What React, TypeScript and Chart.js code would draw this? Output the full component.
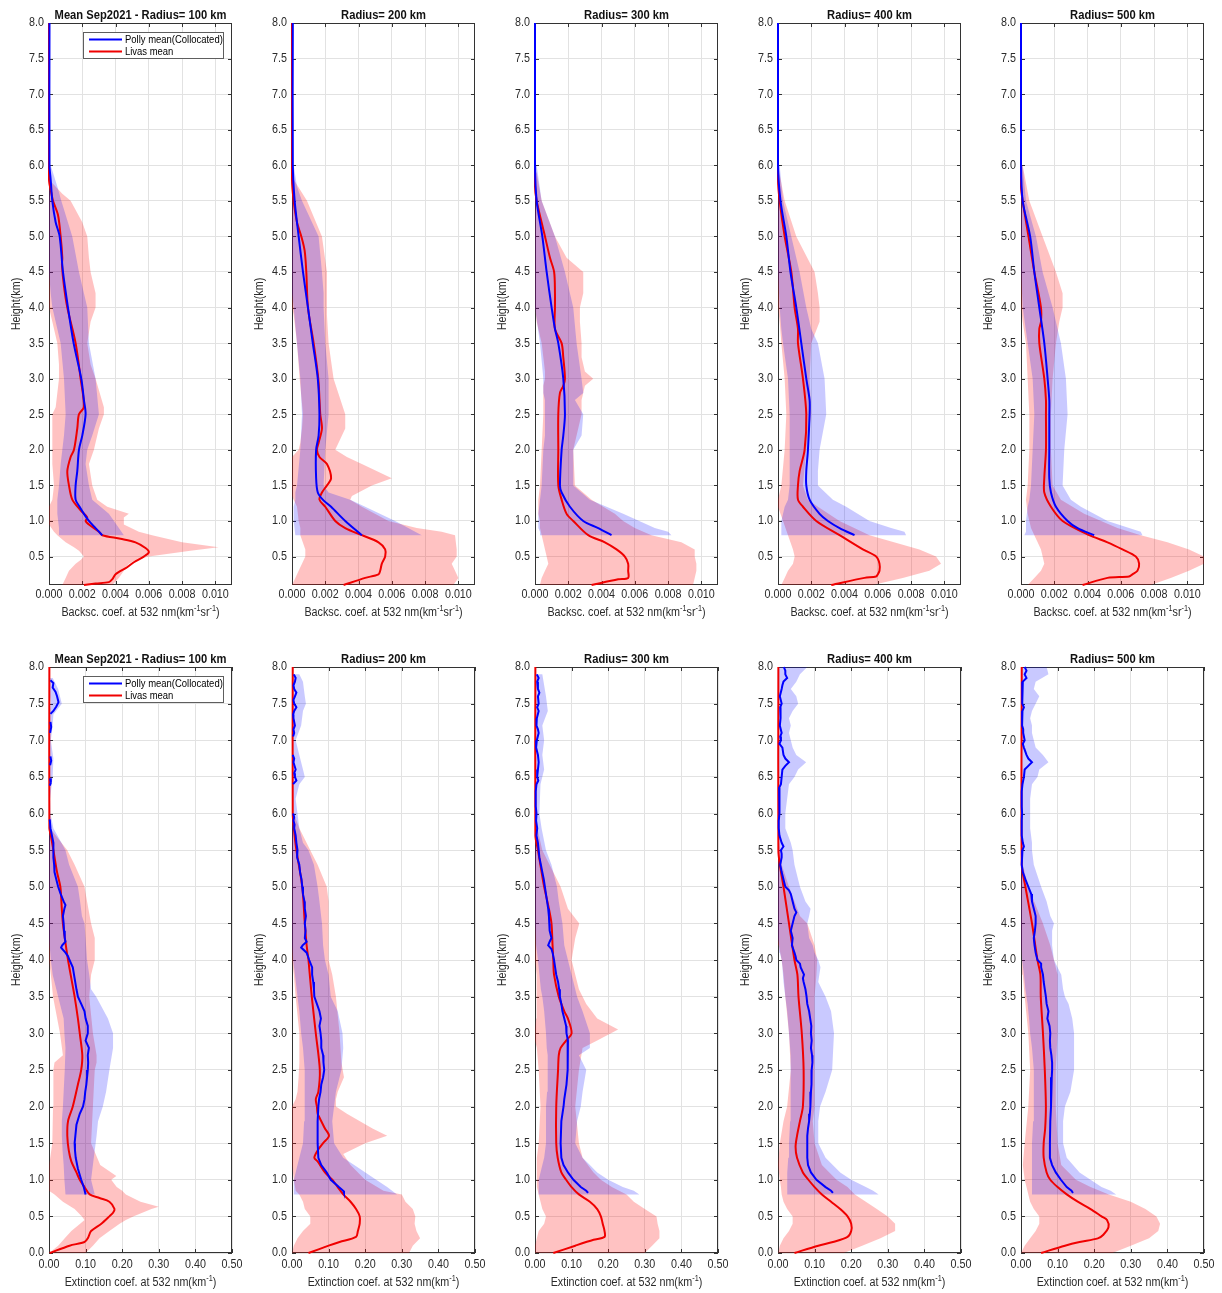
import React, { useEffect, useRef } from 'react';
import { Chart, registerables } from 'chart.js';

Chart.register(...registerables);

type Profile = Array<[number, number | null]>;
type Band = Array<[number, number, number]>;
type RichText = Array<[string, boolean]>;

// ---------- labels and ticks ----------
const PANEL_TITLES = [
  'Mean Sep2021 - Radius= 100 km',
  'Radius= 200 km',
  'Radius= 300 km',
  'Radius= 400 km',
  'Radius= 500 km',
];
const LEGEND_LABELS = ['Polly mean(Collocated)', 'Livas mean'];
const Y_LABEL = 'Height(km)';
const BSC_X_LABEL: RichText = [['Backsc. coef. at 532 nm(km', false], ['-1', true], ['sr', false], ['-1', true], [')', false]];
const EXT_X_LABEL: RichText = [['Extinction coef. at 532 nm(km', false], ['-1', true], [')', false]];
const BSC_TICKS = [0, 0.002, 0.004, 0.006, 0.008, 0.01];
const EXT_TICKS = [0, 0.1, 0.2, 0.3, 0.4, 0.5];
const HEIGHT_TICKS_BSC = [0.5, 1.0, 1.5, 2.0, 2.5, 3.0, 3.5, 4.0, 4.5, 5.0, 5.5, 6.0, 6.5, 7.0, 7.5, 8.0];
const HEIGHT_TICKS_EXT = [0.0, 0.5, 1.0, 1.5, 2.0, 2.5, 3.0, 3.5, 4.0, 4.5, 5.0, 5.5, 6.0, 6.5, 7.0, 7.5, 8.0];

// ---------- backscatter profiles: [height km, value] ----------
const BSC_BLUE_100: Profile = [[8.0,0.00003],[6.0,0.00003],[5.8,0.0001],[5.5,0.0002],[5.2,0.0004],[5.0,0.00064],[4.5,0.00084],[4.0,0.00114],[3.5,0.00148],[3.0,0.00194],[2.7,0.0021],[2.5,0.0022],[2.2,0.002],[2.0,0.0018],[1.7,0.0017],[1.5,0.0016],[1.3,0.0016],[1.2,0.00184],[1.1,0.0021],[1.0,0.0024],[0.9,0.0028],[0.8,0.0032]];
const BSC_RED_100: Profile = [[8.0,0],[5.8,0],[5.6,0.00015],[5.5,0.00024],[5.3,0.00054],[5.0,0.0007],[4.7,0.0008],[4.6,0.00078],[4.3,0.0009],[4.0,0.0011],[3.5,0.0016],[3.0,0.0019],[2.6,0.0021],[2.5,0.0018],[2.3,0.0017],[2.0,0.0015],[1.9,0.0013],[1.7,0.0011],[1.5,0.0012],[1.3,0.0014],[1.15,0.0019],[1.05,0.0023],[1.0,0.0022],[0.95,0.0024],[0.85,0.003],[0.8,0.0032],[0.75,0.0043],[0.7,0.0052],[0.62,0.0058],[0.56,0.006],[0.5,0.0057],[0.42,0.0051],[0.35,0.0047],[0.25,0.004],[0.18,0.0038],[0.14,0.0036],[0.12,0.0028],[0.1,0.0021]];
const BSC_BLUE_BAND_100: Band = [[6.0,0,0.0001],[5.7,0,0.0005],[5.5,0,0.00074],[5.0,0,0.0014],[4.5,0,0.0018],[4.2,0.0001,0.0021],[4.0,0.0002,0.0023],[3.5,0.0007,0.0024],[3.0,0.0009,0.0028],[2.5,0.001,0.003],[2.2,0.0009,0.0026],[2.0,0.0008,0.0023],[1.8,0.0007,0.0022],[1.5,0.0006,0.0024],[1.3,0.0005,0.0026],[1.1,0.0005,0.0036],[0.9,0.0006,0.0042],[0.8,0.0006,0.0045]];
const BSC_RED_BAND_100: Band = [[5.8,0,0],[5.6,0,0.0008],[5.5,0,0.0013],[5.2,0,0.002],[5.0,0,0.0023],[4.7,0,0.0024],[4.5,0,0.0025],[4.2,0,0.0028],[4.0,0,0.0028],[3.8,0.0002,0.0025],[3.5,0.0005,0.0023],[3.2,0.0006,0.0025],[3.0,0.0006,0.0028],[2.6,0.0004,0.0033],[2.5,0.0002,0.0033],[2.3,0.0002,0.003],[2.0,0.0002,0.0027],[1.8,0.0002,0.0024],[1.5,0.0003,0.0026],[1.3,0.0002,0.0029],[1.2,0,0.0035],[1.1,0,0.0048],[1.05,0,0.0045],[0.95,0,0.0045],[0.85,0.0003,0.0054],[0.8,0.0005,0.0062],[0.7,0.001,0.008],[0.63,0.0015,0.0102],[0.58,0.0018,0.0085],[0.5,0.0021,0.006],[0.45,0.0019,0.0052],[0.4,0.0016,0.0048],[0.3,0.0012,0.0045],[0.2,0.001,0.0042],[0.1,0.0008,0.0038]];

const BSC_BLUE_200: Profile = [[8.0,0.00005],[6.0,0.00005],[5.5,0.00016],[5.0,0.0004],[4.5,0.00066],[4.0,0.00096],[3.5,0.00125],[3.0,0.00155],[2.5,0.00165],[2.2,0.0016],[2.0,0.00145],[1.6,0.00145],[1.4,0.00155],[1.3,0.00185],[1.2,0.00235],[1.0,0.0032],[0.8,0.0042]];
const BSC_RED_200: Profile = [[8.0,0],[5.8,0],[5.5,0.0001],[5.2,0.0003],[5.0,0.00056],[4.8,0.00076],[4.5,0.00086],[4.0,0.00096],[3.5,0.0013],[3.0,0.00158],[2.5,0.0017],[2.3,0.0018],[2.1,0.0016],[2.0,0.0015],[1.9,0.00165],[1.8,0.0021],[1.6,0.00235],[1.5,0.0021],[1.4,0.0018],[1.3,0.00165],[1.2,0.002],[1.0,0.0026],[0.9,0.0032],[0.8,0.0042],[0.7,0.0052],[0.6,0.0056],[0.5,0.0056],[0.4,0.0054],[0.3,0.0053],[0.25,0.0052],[0.2,0.0044],[0.1,0.0031]];
const BSC_BLUE_BAND_200: Band = [[6.0,0,0.0001],[5.7,0,0.0003],[5.5,0,0.0006],[5.0,0,0.0016],[4.5,0,0.0018],[4.2,0,0.0019],[4.0,0.0001,0.0019],[3.5,0.0003,0.002],[3.0,0.0005,0.0022],[2.5,0.0006,0.0022],[2.0,0.0005,0.002],[1.5,0.0003,0.0019],[1.4,0.0002,0.0022],[1.3,0.0002,0.0035],[1.2,0.0001,0.0044],[1.0,0.0001,0.0062],[0.8,0.0002,0.0078]];
const BSC_RED_BAND_200: Band = [[5.8,0,0.0001],[5.5,0,0.0009],[5.0,0,0.0018],[4.5,0,0.0021],[4.0,0,0.0021],[3.9,0.0001,0.0021],[3.5,0.0003,0.0022],[3.0,0.00046,0.0025],[2.5,0.00066,0.0032],[2.3,0.0006,0.0032],[2.1,0.0005,0.0028],[2.0,0.0004,0.0026],[1.9,0,0.0033],[1.8,0,0.0042],[1.6,0,0.006],[1.5,0,0.0048],[1.35,0,0.0036],[1.3,0.0001,0.0035],[1.2,0.0003,0.0042],[1.0,0.0004,0.0058],[0.9,0.0005,0.0075],[0.85,0.0005,0.009],[0.8,0.0005,0.0098],[0.6,0.0008,0.0099],[0.5,0.0008,0.0099],[0.4,0.0006,0.0096],[0.3,0.0004,0.0098],[0.2,0.0002,0.01],[0.1,0,0.0097]];

const BSC_BLUE_300: Profile = [[8.0,0],[6.0,0],[5.5,0.0001],[5.0,0.00044],[4.5,0.0007],[4.0,0.001],[3.7,0.0012],[3.5,0.0014],[3.0,0.0017],[2.5,0.0018],[2.2,0.0017],[2.0,0.0016],[1.5,0.0015],[1.4,0.0016],[1.2,0.0021],[1.0,0.0029],[0.9,0.0038],[0.8,0.0046]];
const BSC_RED_300: Profile = [[8.0,0],[5.7,0],[5.5,0.0001],[5.0,0.0006],[4.7,0.0009],[4.5,0.00115],[4.2,0.0012],[4.0,0.0012],[3.7,0.0012],[3.5,0.0016],[3.3,0.0017],[3.0,0.0018],[2.9,0.0017],[2.8,0.0015],[2.5,0.0014],[2.0,0.0014],[1.5,0.0014],[1.3,0.0016],[1.1,0.0019],[1.0,0.0023],[0.8,0.0032],[0.7,0.0042],[0.6,0.0049],[0.5,0.0054],[0.4,0.0056],[0.3,0.0056],[0.2,0.0056],[0.18,0.005],[0.1,0.0034]];
const BSC_BLUE_BAND_300: Band = [[6.0,0,0.0001],[5.5,0,0.0004],[5.0,0,0.0012],[4.5,0,0.0018],[4.0,0,0.0023],[3.5,0.0003,0.0025],[3.0,0.0005,0.0028],[2.8,0.0005,0.0029],[2.7,0.0006,0.0024],[2.5,0.0006,0.0029],[2.2,0.0006,0.0028],[2.0,0.0005,0.0023],[1.5,0.0004,0.0023],[1.3,0.0003,0.0033],[1.1,0.0002,0.0053],[0.9,0.0002,0.0072],[0.85,0.0003,0.008],[0.8,0.0003,0.0082]];
const BSC_RED_BAND_300: Band = [[5.9,0,0.0001],[5.5,0,0.0004],[5.0,0,0.0012],[4.7,0,0.0019],[4.5,0,0.0029],[4.2,0,0.0029],[4.0,0,0.0027],[3.8,0.0001,0.0027],[3.5,0.0004,0.0028],[3.3,0.0005,0.0028],[3.1,0.0006,0.003],[3.0,0.0006,0.0035],[2.9,0.0005,0.003],[2.7,0.0005,0.0028],[2.5,0.0005,0.0028],[2.0,0.0004,0.0023],[1.5,0.0003,0.0024],[1.3,0.0002,0.0034],[1.1,0.0002,0.0048],[1.0,0.0003,0.0053],[0.9,0.0003,0.006],[0.8,0.0004,0.007],[0.7,0.0005,0.0088],[0.6,0.0006,0.0096],[0.5,0.0007,0.0096],[0.4,0.0008,0.0097],[0.3,0.0006,0.0097],[0.2,0.0004,0.0096],[0.1,0.0003,0.0095]];

const BSC_BLUE_400: Profile = [[8.0,0],[6.0,0],[5.5,0.00015],[5.0,0.0005],[4.5,0.00075],[4.0,0.0011],[3.5,0.0014],[3.0,0.0017],[2.7,0.0019],[2.5,0.0019],[2.0,0.0018],[1.7,0.0017],[1.5,0.0017],[1.3,0.0019],[1.1,0.0025],[1.0,0.003],[0.9,0.0037],[0.8,0.0046]];
const BSC_RED_400: Profile = [[8.0,0],[5.8,0],[5.5,0.0001],[5.0,0.0004],[4.5,0.0008],[4.0,0.001],[3.7,0.0012],[3.5,0.0012],[3.0,0.0015],[2.5,0.0017],[2.0,0.0016],[1.7,0.0013],[1.5,0.0012],[1.3,0.0012],[1.2,0.0015],[1.0,0.0023],[0.8,0.0037],[0.6,0.0051],[0.5,0.0059],[0.4,0.0061],[0.3,0.0061],[0.25,0.006],[0.22,0.0059],[0.2,0.0052],[0.1,0.0032]];
const BSC_BLUE_BAND_400: Band = [[6.0,0,0.0001],[5.5,0,0.0003],[5.0,0,0.0008],[4.5,0,0.0013],[4.0,0.0001,0.0017],[3.7,0.0002,0.002],[3.5,0.0003,0.0024],[3.0,0.0006,0.0028],[2.5,0.0007,0.0029],[2.0,0.0007,0.0025],[1.7,0.0007,0.0024],[1.5,0.0007,0.0024],[1.3,0.0006,0.0033],[1.2,0.0004,0.0041],[1.0,0.0002,0.0055],[0.9,0.0002,0.0068],[0.85,0.0002,0.0076],[0.8,0.0002,0.0077]];
const BSC_RED_BAND_400: Band = [[6.0,0,0],[5.5,0,0.0004],[5.0,0,0.0011],[4.5,0,0.0022],[4.2,0,0.0024],[4.0,0,0.0025],[3.8,0.0001,0.0025],[3.5,0.0002,0.002],[3.0,0.0004,0.0019],[2.5,0.0005,0.002],[2.0,0.0004,0.0017],[1.5,0.0002,0.0015],[1.3,0,0.0018],[1.2,0,0.0024],[1.0,0.0003,0.0037],[0.8,0.0006,0.0055],[0.6,0.0009,0.0085],[0.5,0.001,0.0095],[0.4,0.0009,0.0098],[0.3,0.0006,0.0091],[0.2,0.0004,0.0075],[0.1,0.0002,0.0057]];

const BSC_BLUE_500: Profile = [[8.0,0],[6.0,0],[5.5,0.0001],[5.0,0.00055],[4.5,0.0008],[4.0,0.0011],[3.5,0.0014],[3.0,0.0016],[2.7,0.0017],[2.5,0.0017],[2.0,0.0017],[1.6,0.0017],[1.4,0.0018],[1.2,0.0021],[1.0,0.0028],[0.9,0.0034],[0.8,0.0044]];
const BSC_RED_500: Profile = [[8.0,0],[5.7,0],[5.5,0.0001],[5.0,0.00045],[4.5,0.0008],[4.0,0.0012],[3.8,0.0012],[3.7,0.0011],[3.5,0.0011],[3.0,0.0014],[2.7,0.0015],[2.5,0.0015],[2.0,0.0015],[1.6,0.0014],[1.4,0.0014],[1.2,0.0018],[1.0,0.0025],[0.8,0.0041],[0.7,0.0052],[0.6,0.0061],[0.5,0.0069],[0.4,0.0071],[0.3,0.007],[0.25,0.0067],[0.22,0.0065],[0.2,0.0052],[0.1,0.0037]];
const BSC_BLUE_BAND_500: Band = [[6.0,0,0.0001],[5.5,0,0.0003],[5.0,0,0.0009],[4.5,0,0.0013],[4.0,0.0001,0.0019],[3.5,0.0004,0.0024],[3.0,0.0007,0.0027],[2.5,0.0008,0.0028],[2.0,0.0007,0.0026],[1.5,0.0006,0.0025],[1.3,0.0005,0.003],[1.2,0.0004,0.0036],[1.0,0.0003,0.0052],[0.9,0.0003,0.0065],[0.85,0.0003,0.0072],[0.8,0.0002,0.0073]];
const BSC_RED_BAND_500: Band = [[6.0,0,0.0001],[5.5,0,0.0005],[5.0,0,0.0013],[4.5,0,0.0021],[4.2,0,0.0025],[4.0,0,0.0025],[3.8,0.0001,0.0023],[3.5,0.0003,0.0021],[3.0,0.0004,0.0019],[2.5,0.0005,0.0018],[2.0,0.0005,0.0018],[1.5,0.0004,0.0019],[1.3,0.0003,0.0024],[1.1,0.0004,0.0038],[0.9,0.0006,0.0058],[0.8,0.0008,0.0072],[0.7,0.001,0.0088],[0.6,0.0012,0.0101],[0.5,0.0013,0.011],[0.4,0.0014,0.011],[0.3,0.0012,0.0101],[0.2,0.0008,0.009],[0.1,0.0004,0.0078]];

// ---------- extinction profiles: [height km, value] ----------
const EXT_BLUE_100: Profile = [[7.82,0.004],[7.78,0.012],[7.72,0.01],[7.66,0.018],[7.6,0.022],[7.52,0.026],[7.46,0.02],[7.4,0.012],[7.36,0.004],[7.3,null],[7.25,0.004],[7.18,0.006],[7.1,0.003],[7.0,null],[6.78,0.004],[6.72,0.006],[6.66,0.003],[6.6,null],[6.48,0.003],[6.42,0.005],[6.38,0.002],[6.2,null],[5.92,0.002],[5.8,0.004],[5.7,0.008],[5.6,0.012],[5.5,0.011],[5.4,0.013],[5.3,0.014],[5.2,0.015],[5.1,0.02],[5.0,0.025],[4.9,0.032],[4.8,0.04],[4.75,0.045],[4.7,0.042],[4.6,0.038],[4.5,0.04],[4.4,0.041],[4.3,0.043],[4.25,0.045],[4.2,0.036],[4.17,0.033],[4.1,0.045],[4.05,0.052],[4.0,0.056],[3.9,0.065],[3.75,0.07],[3.6,0.075],[3.5,0.079],[3.4,0.088],[3.3,0.097],[3.2,0.1],[3.1,0.106],[3.0,0.106],[2.9,0.1],[2.8,0.109],[2.7,0.106],[2.6,0.107],[2.5,0.106],[2.4,0.104],[2.3,0.102],[2.2,0.099],[2.1,0.097],[2.0,0.093],[1.9,0.084],[1.75,0.075],[1.6,0.072],[1.5,0.07],[1.4,0.071],[1.3,0.073],[1.15,0.079],[1.0,0.088],[0.9,0.095],[0.8,0.1]];
const EXT_RED_100: Profile = [[8.0,0.001],[5.8,0.001],[5.7,0.005],[5.5,0.012],[5.2,0.022],[5.0,0.031],[4.7,0.035],[4.5,0.038],[4.2,0.046],[4.0,0.052],[3.75,0.061],[3.5,0.07],[3.2,0.079],[3.0,0.084],[2.7,0.091],[2.5,0.088],[2.3,0.079],[2.0,0.065],[1.8,0.052],[1.6,0.05],[1.4,0.054],[1.25,0.061],[1.1,0.075],[1.0,0.084],[0.9,0.097],[0.8,0.111],[0.75,0.138],[0.7,0.165],[0.6,0.179],[0.55,0.175],[0.5,0.165],[0.4,0.143],[0.3,0.115],[0.2,0.106],[0.15,0.097],[0.1,0.056],[0.0,0.002]];
const EXT_BLUE_BAND_100: Band = [[7.85,0,0.01],[7.7,0,0.025],[7.5,0.005,0.035],[7.35,0,0.012],[7.2,0,0.01],[7.0,0,0.005],[6.75,0,0.012],[6.5,0,0.01],[6.2,0,0.003],[6.0,0,0.004],[5.8,0,0.012],[5.6,0,0.034],[5.5,0,0.045],[5.3,0,0.055],[5.0,0,0.079],[4.8,0,0.085],[4.6,0,0.09],[4.5,0,0.097],[4.3,0,0.1],[4.0,0.005,0.104],[3.8,0.01,0.11],[3.6,0.02,0.115],[3.5,0.025,0.129],[3.2,0.04,0.161],[3.0,0.042,0.175],[2.8,0.045,0.175],[2.5,0.043,0.165],[2.2,0.04,0.156],[2.0,0.038,0.147],[1.8,0.035,0.134],[1.6,0.035,0.13],[1.4,0.037,0.125],[1.2,0.04,0.12],[1.0,0.042,0.115],[0.8,0.045,0.125]];
const EXT_RED_BAND_100: Band = [[5.8,0,0.003],[5.5,0,0.05],[5.3,0,0.07],[5.0,0,0.097],[4.8,0,0.104],[4.5,0,0.115],[4.3,0,0.125],[4.0,0,0.125],[3.8,0.005,0.115],[3.5,0.011,0.11],[3.0,0.03,0.12],[2.7,0.038,0.13],[2.6,0.015,0.13],[2.5,0.012,0.125],[2.0,0.011,0.12],[1.5,0.009,0.115],[1.2,0.002,0.14],[1.05,0,0.184],[1.0,0,0.17],[0.9,0,0.185],[0.85,0,0.2],[0.8,0.015,0.21],[0.7,0.038,0.25],[0.63,0.06,0.3],[0.6,0.07,0.28],[0.5,0.09,0.23],[0.45,0.097,0.21],[0.4,0.085,0.193],[0.3,0.061,0.165],[0.2,0.043,0.138],[0.1,0.025,0.12],[0.0,0,0.1]];

const EXT_BLUE_200: Profile = [[7.9,0.005],[7.85,0.01],[7.8,0.008],[7.75,0.004],[7.7,0.006],[7.65,0.012],[7.6,0.008],[7.55,0.004],[7.5,0.006],[7.45,0.012],[7.4,0.006],[7.35,0.003],[7.3,0.004],[7.2,0.008],[7.15,0.004],[7.1,0.006],[7.05,0.003],[7.0,null],[6.8,0.002],[6.75,0.006],[6.7,0.004],[6.6,0.01],[6.55,0.006],[6.5,0.008],[6.45,0.012],[6.4,0.003],[6.3,null],[6.0,0.003],[5.95,0.006],[5.9,0.004],[5.85,0.007],[5.8,0.006],[5.7,0.01],[5.6,0.012],[5.5,0.015],[5.4,0.014],[5.3,0.02],[5.2,0.022],[5.1,0.026],[5.0,0.028],[4.9,0.03],[4.8,0.034],[4.7,0.035],[4.6,0.038],[4.5,0.035],[4.4,0.037],[4.3,0.035],[4.25,0.04],[4.2,0.029],[4.17,0.025],[4.1,0.04],[4.0,0.047],[3.9,0.055],[3.8,0.055],[3.7,0.058],[3.6,0.06],[3.5,0.061],[3.4,0.068],[3.3,0.075],[3.2,0.079],[3.1,0.075],[3.0,0.078],[2.9,0.08],[2.8,0.08],[2.7,0.085],[2.6,0.086],[2.5,0.088],[2.4,0.085],[2.3,0.08],[2.2,0.078],[2.1,0.074],[2.0,0.072],[1.8,0.07],[1.5,0.07],[1.3,0.072],[1.2,0.08],[1.1,0.095],[1.0,0.106],[0.9,0.128],[0.85,0.14],[0.82,0.142]];
const EXT_RED_200: Profile = [[8.0,0.002],[6.0,0.002],[5.8,0.005],[5.5,0.012],[5.0,0.028],[4.5,0.035],[4.2,0.04],[4.0,0.045],[3.5,0.054],[3.0,0.065],[2.5,0.076],[2.2,0.072],[2.1,0.065],[2.0,0.068],[1.9,0.07],[1.85,0.075],[1.7,0.09],[1.6,0.101],[1.5,0.085],[1.4,0.07],[1.3,0.061],[1.25,0.07],[1.1,0.09],[1.0,0.11],[0.9,0.125],[0.8,0.14],[0.7,0.16],[0.6,0.175],[0.5,0.185],[0.4,0.185],[0.3,0.18],[0.22,0.175],[0.15,0.13],[0.1,0.1],[0.0,0.045]];
const EXT_BLUE_BAND_200: Band = [[7.9,0,0.02],[7.8,0,0.03],[7.6,0,0.035],[7.5,0,0.038],[7.4,0,0.03],[7.2,0,0.025],[7.0,0,0.01],[6.8,0,0.02],[6.6,0,0.03],[6.5,0,0.035],[6.4,0,0.02],[6.2,0,0.01],[6.0,0,0.015],[5.8,0,0.02],[5.6,0,0.03],[5.5,0,0.045],[5.3,0,0.06],[5.0,0,0.07],[4.8,0,0.075],[4.5,0,0.082],[4.2,0,0.085],[4.0,0.003,0.09],[3.8,0.008,0.1],[3.5,0.015,0.106],[3.3,0.02,0.125],[3.0,0.025,0.138],[2.8,0.03,0.14],[2.5,0.034,0.135],[2.2,0.035,0.12],[2.0,0.035,0.115],[1.8,0.033,0.11],[1.5,0.03,0.115],[1.3,0.02,0.14],[1.2,0.015,0.17],[1.0,0.005,0.23],[0.9,0.005,0.26],[0.8,0.005,0.287]];
const EXT_RED_BAND_200: Band = [[6.0,0,0.005],[5.8,0,0.02],[5.5,0,0.05],[5.3,0,0.07],[5.0,0,0.095],[4.8,0,0.1],[4.5,0,0.1],[4.2,0,0.1],[4.0,0,0.1],[3.8,0.005,0.11],[3.5,0.01,0.12],[3.0,0.02,0.13],[2.6,0.02,0.135],[2.4,0.018,0.142],[2.2,0.015,0.125],[2.1,0.01,0.12],[2.0,0,0.12],[1.9,0,0.15],[1.7,0,0.22],[1.6,0,0.26],[1.5,0,0.2],[1.35,0,0.14],[1.2,0,0.16],[1.0,0.005,0.2],[0.85,0.01,0.25],[0.8,0.02,0.3],[0.7,0.03,0.31],[0.6,0.035,0.33],[0.5,0.05,0.337],[0.4,0.05,0.335],[0.3,0.03,0.34],[0.2,0.015,0.35],[0.1,0.005,0.33],[0.0,0,0.32]];

const EXT_BLUE_300: Profile = [[7.9,0.005],[7.85,0.01],[7.8,0.006],[7.7,0.008],[7.65,0.012],[7.6,0.008],[7.5,0.01],[7.45,0.006],[7.4,0.01],[7.3,0.005],[7.2,0.004],[7.15,0.008],[7.1,0.01],[7.0,0.005],[6.9,0.003],[6.8,0.008],[6.7,0.01],[6.6,0.008],[6.5,0.006],[6.45,0.009],[6.4,0.004],[6.3,0.002],[6.1,0.002],[6.0,0.004],[5.9,0.003],[5.8,0.006],[5.7,0.004],[5.6,0.008],[5.5,0.01],[5.4,0.012],[5.3,0.016],[5.2,0.02],[5.1,0.024],[5.0,0.027],[4.9,0.03],[4.8,0.033],[4.7,0.036],[4.6,0.038],[4.5,0.039],[4.4,0.04],[4.3,0.045],[4.25,0.04],[4.2,0.036],[4.15,0.045],[4.1,0.048],[4.0,0.052],[3.9,0.055],[3.8,0.058],[3.7,0.063],[3.6,0.066],[3.5,0.068],[3.4,0.072],[3.3,0.075],[3.2,0.08],[3.1,0.085],[3.0,0.086],[2.9,0.09],[2.8,0.09],[2.7,0.09],[2.6,0.089],[2.5,0.088],[2.3,0.086],[2.1,0.08],[2.0,0.078],[1.8,0.072],[1.5,0.07],[1.3,0.072],[1.2,0.078],[1.1,0.09],[1.0,0.105],[0.9,0.125],[0.85,0.14],[0.82,0.145]];
const EXT_RED_300: Profile = [[8.0,0.001],[5.7,0.001],[5.5,0.008],[5.2,0.018],[5.0,0.025],[4.7,0.038],[4.5,0.045],[4.2,0.048],[4.0,0.05],[3.8,0.052],[3.5,0.065],[3.3,0.08],[3.2,0.09],[3.0,0.1],[2.9,0.085],[2.8,0.07],[2.7,0.065],[2.5,0.063],[2.0,0.058],[1.5,0.058],[1.3,0.062],[1.1,0.072],[1.0,0.085],[0.9,0.1],[0.8,0.12],[0.7,0.15],[0.6,0.17],[0.5,0.18],[0.4,0.185],[0.3,0.19],[0.22,0.19],[0.18,0.16],[0.1,0.11],[0.0,0.05]];
const EXT_BLUE_BAND_300: Band = [[7.9,0,0.02],[7.6,0,0.03],[7.4,0,0.035],[7.2,0,0.02],[7.0,0,0.025],[6.8,0,0.02],[6.6,0,0.025],[6.4,0,0.015],[6.0,0,0.012],[5.8,0,0.018],[5.5,0,0.03],[5.3,0,0.045],[5.0,0,0.06],[4.8,0,0.065],[4.5,0,0.075],[4.2,0.003,0.08],[4.0,0.008,0.09],[3.8,0.012,0.1],[3.6,0.016,0.11],[3.5,0.02,0.115],[3.3,0.025,0.13],[3.0,0.03,0.15],[2.8,0.032,0.15],[2.7,0.034,0.12],[2.6,0.035,0.13],[2.5,0.035,0.14],[2.2,0.033,0.13],[2.0,0.03,0.125],[1.8,0.03,0.115],[1.5,0.03,0.11],[1.3,0.025,0.13],[1.2,0.02,0.15],[1.1,0.015,0.17],[1.0,0.01,0.2],[0.9,0.01,0.24],[0.85,0.01,0.27],[0.8,0.01,0.285]];
const EXT_RED_BAND_300: Band = [[5.9,0,0.002],[5.5,0,0.02],[5.0,0,0.07],[4.7,0,0.09],[4.5,0,0.121],[4.3,0,0.11],[4.0,0,0.1],[3.8,0.003,0.11],[3.6,0.005,0.12],[3.4,0.005,0.14],[3.2,0.003,0.17],[3.05,0,0.227],[2.9,0,0.17],[2.8,0.005,0.13],[2.5,0.01,0.12],[2.0,0.015,0.11],[1.5,0.01,0.12],[1.3,0.005,0.13],[1.1,0.005,0.16],[1.0,0.005,0.18],[0.9,0.005,0.21],[0.8,0.01,0.25],[0.7,0.015,0.27],[0.6,0.02,0.3],[0.5,0.03,0.332],[0.4,0.025,0.335],[0.3,0.01,0.34],[0.2,0.005,0.34],[0.1,0,0.32],[0.0,0,0.3]];

const EXT_BLUE_400: Profile = [[8.0,0.016],[7.95,0.02],[7.9,0.02],[7.85,0.025],[7.8,0.015],[7.75,0.012],[7.7,0.01],[7.6,0.005],[7.5,0.01],[7.45,0.006],[7.4,0.008],[7.3,0.006],[7.2,0.005],[7.1,0.01],[7.05,0.006],[7.0,0.008],[6.95,0.004],[6.9,0.012],[6.8,0.015],[6.75,0.02],[6.7,0.03],[6.65,0.02],[6.6,0.012],[6.5,0.01],[6.4,0.008],[6.35,0.003],[6.3,0.004],[6.2,0.005],[6.1,0.003],[6.0,0.004],[5.9,0.002],[5.8,0.002],[5.7,0.004],[5.6,0.01],[5.55,0.015],[5.5,0.008],[5.45,0.01],[5.4,0.01],[5.3,0.006],[5.2,0.01],[5.1,0.015],[5.0,0.02],[4.95,0.03],[4.9,0.035],[4.8,0.04],[4.7,0.045],[4.65,0.05],[4.6,0.045],[4.5,0.04],[4.4,0.035],[4.3,0.04],[4.2,0.038],[4.1,0.045],[4.05,0.048],[4.0,0.05],[3.95,0.06],[3.9,0.062],[3.8,0.071],[3.75,0.068],[3.7,0.07],[3.6,0.075],[3.5,0.078],[3.4,0.08],[3.3,0.085],[3.2,0.088],[3.1,0.091],[3.0,0.09],[2.9,0.092],[2.8,0.09],[2.7,0.093],[2.6,0.094],[2.5,0.092],[2.4,0.092],[2.3,0.091],[2.2,0.09],[2.1,0.089],[2.0,0.088],[1.9,0.087],[1.8,0.085],[1.7,0.082],[1.6,0.08],[1.5,0.08],[1.4,0.08],[1.3,0.08],[1.2,0.082],[1.1,0.09],[1.0,0.105],[0.9,0.13],[0.85,0.145],[0.82,0.15]];
const EXT_RED_400: Profile = [[8.0,0.001],[5.5,0.001],[5.3,0.005],[5.0,0.015],[4.5,0.03],[4.0,0.045],[3.8,0.053],[3.5,0.056],[3.0,0.065],[2.5,0.07],[2.0,0.068],[1.8,0.06],[1.6,0.052],[1.45,0.048],[1.3,0.052],[1.1,0.068],[1.0,0.083],[0.9,0.1],[0.8,0.12],[0.7,0.145],[0.6,0.17],[0.5,0.19],[0.4,0.2],[0.3,0.2],[0.22,0.19],[0.15,0.15],[0.1,0.11],[0.0,0.045]];
const EXT_BLUE_BAND_400: Band = [[8.0,0,0.08],[7.9,0,0.06],[7.8,0,0.05],[7.7,0,0.035],[7.6,0,0.05],[7.5,0,0.055],[7.4,0,0.04],[7.3,0,0.03],[7.2,0,0.035],[7.1,0,0.03],[7.0,0,0.035],[6.9,0,0.04],[6.8,0,0.05],[6.7,0,0.077],[6.6,0,0.055],[6.5,0,0.045],[6.4,0,0.03],[6.2,0,0.025],[6.0,0,0.02],[5.8,0,0.02],[5.6,0,0.035],[5.5,0,0.04],[5.3,0,0.045],[5.1,0,0.055],[5.0,0,0.06],[4.8,0,0.075],[4.7,0,0.089],[4.6,0,0.085],[4.5,0,0.08],[4.3,0,0.085],[4.2,0.003,0.095],[4.1,0.005,0.1],[4.0,0.01,0.11],[3.9,0.012,0.116],[3.7,0.015,0.11],[3.5,0.02,0.13],[3.3,0.025,0.145],[3.0,0.03,0.153],[2.7,0.033,0.15],[2.5,0.035,0.148],[2.2,0.035,0.13],[2.0,0.035,0.115],[1.8,0.033,0.11],[1.5,0.03,0.11],[1.3,0.028,0.13],[1.1,0.026,0.17],[1.0,0.025,0.2],[0.9,0.025,0.24],[0.85,0.025,0.26],[0.8,0.025,0.275]];
const EXT_RED_BAND_400: Band = [[5.6,0,0.003],[5.3,0,0.01],[5.0,0,0.03],[4.6,0,0.06],[4.5,0,0.08],[4.2,0.002,0.1],[4.0,0.01,0.107],[3.8,0.015,0.105],[3.5,0.02,0.1],[3.0,0.03,0.1],[2.5,0.035,0.1],[2.0,0.025,0.1],[1.8,0.015,0.095],[1.5,0.005,0.1],[1.2,0,0.12],[1.0,0.005,0.16],[0.9,0.008,0.19],[0.8,0.01,0.21],[0.7,0.015,0.24],[0.6,0.025,0.27],[0.5,0.04,0.3],[0.4,0.04,0.32],[0.3,0.03,0.32],[0.2,0.015,0.28],[0.1,0.005,0.23],[0.0,0,0.18]];

const EXT_BLUE_500: Profile = [[8.0,0.01],[7.95,0.015],[7.9,0.01],[7.85,0.015],[7.8,0.005],[7.7,0.003],[7.6,0.004],[7.5,0.003],[7.45,0.008],[7.4,0.004],[7.3,0.003],[7.2,0.003],[7.15,0.006],[7.1,0.006],[7.0,0.01],[6.95,0.005],[6.9,0.008],[6.8,0.015],[6.75,0.02],[6.7,0.03],[6.65,0.02],[6.6,0.01],[6.5,0.008],[6.4,0.004],[6.3,0.002],[6.1,0.002],[6.0,0.003],[5.9,0.002],[5.7,0.002],[5.6,0.005],[5.55,0.008],[5.5,0.004],[5.4,0.003],[5.3,0.002],[5.2,0.005],[5.1,0.012],[5.0,0.02],[4.9,0.028],[4.8,0.03],[4.7,0.035],[4.6,0.04],[4.5,0.04],[4.4,0.038],[4.3,0.035],[4.2,0.037],[4.1,0.04],[4.0,0.045],[3.95,0.055],[3.9,0.055],[3.8,0.06],[3.7,0.062],[3.6,0.065],[3.5,0.068],[3.4,0.07],[3.3,0.075],[3.2,0.072],[3.1,0.078],[3.0,0.08],[2.9,0.079],[2.8,0.08],[2.7,0.083],[2.6,0.085],[2.5,0.085],[2.4,0.084],[2.2,0.082],[2.0,0.082],[1.8,0.08],[1.5,0.079],[1.3,0.079],[1.2,0.085],[1.1,0.095],[1.0,0.109],[0.9,0.125],[0.85,0.138],[0.82,0.142]];
const EXT_RED_500: Profile = [[8.0,0.002],[5.3,0.002],[5.0,0.012],[4.5,0.03],[4.0,0.045],[3.8,0.053],[3.5,0.054],[3.0,0.06],[2.5,0.065],[2.0,0.068],[1.7,0.066],[1.5,0.062],[1.3,0.062],[1.1,0.07],[1.0,0.08],[0.9,0.1],[0.8,0.125],[0.7,0.155],[0.6,0.19],[0.5,0.22],[0.45,0.235],[0.35,0.239],[0.25,0.225],[0.2,0.21],[0.15,0.16],[0.1,0.12],[0.0,0.055]];
const EXT_BLUE_BAND_500: Band = [[8.0,0,0.07],[7.9,0,0.075],[7.8,0,0.04],[7.7,0,0.035],[7.6,0,0.05],[7.5,0,0.04],[7.4,0,0.03],[7.3,0,0.025],[7.2,0,0.03],[7.1,0,0.03],[7.0,0,0.035],[6.9,0,0.04],[6.8,0,0.06],[6.7,0,0.075],[6.6,0,0.05],[6.5,0,0.045],[6.4,0,0.03],[6.2,0,0.025],[6.0,0,0.025],[5.8,0,0.025],[5.6,0,0.03],[5.5,0,0.03],[5.3,0,0.035],[5.0,0,0.055],[4.8,0,0.07],[4.6,0,0.08],[4.5,0,0.09],[4.4,0,0.085],[4.2,0,0.085],[4.0,0.003,0.09],[3.8,0.008,0.11],[3.6,0.012,0.115],[3.5,0.015,0.12],[3.4,0.018,0.13],[3.2,0.022,0.14],[3.0,0.025,0.145],[2.8,0.03,0.145],[2.5,0.035,0.145],[2.2,0.035,0.135],[2.0,0.035,0.12],[1.8,0.033,0.115],[1.5,0.03,0.115],[1.3,0.03,0.125],[1.1,0.03,0.16],[1.0,0.03,0.19],[0.9,0.03,0.22],[0.85,0.03,0.245],[0.8,0.03,0.26]];
const EXT_RED_BAND_500: Band = [[5.3,0,0.005],[5.0,0,0.02],[4.5,0,0.06],[4.2,0,0.08],[4.0,0.003,0.09],[3.8,0.005,0.1],[3.5,0.01,0.1],[3.0,0.02,0.1],[2.5,0.025,0.095],[2.0,0.02,0.095],[1.5,0.01,0.1],[1.2,0.005,0.11],[1.0,0.01,0.15],[0.9,0.015,0.19],[0.8,0.02,0.24],[0.7,0.025,0.3],[0.6,0.035,0.34],[0.5,0.05,0.37],[0.4,0.05,0.38],[0.3,0.04,0.375],[0.2,0.025,0.35],[0.1,0.01,0.3],[0.0,0,0.25]];

// ---------- styling ----------
const FONT = "'Liberation Sans', Arial, sans-serif";
const NARROW = 0.86; // horizontal squeeze for a condensed look
const TEXT_COLOR = '#111111';
const TICK_COLOR = '#2b2b2b';
const AXIS_COLOR = '#333333';
const GRID_COLOR = '#e2e2e2';
const BLUE = '#0000ff';
const RED = '#f00000';
const BLUE_FILL = 'rgba(0, 0, 255, 0.21)';
const RED_FILL = 'rgba(255, 0, 0, 0.24)';
const PANEL_W = 243;

interface RowSpec {
  xMax: number;
  xTicks: number[];
  xDigits: number;
  yMin: number;
  yTicks: number[];
  xLabel: RichText;
  canvasTop: number;
  canvasHeight: number;
  plotTop: number;
  plotBottom: number;
  tickGap: number;
  xLabelGap: number;
  blueTension: number;
}

interface PanelData {
  blue: Profile;
  red: Profile;
  blueBand: Band;
  redBand: Band;
}

const BSC_ROW: RowSpec = {
  xMax: 0.011, xTicks: BSC_TICKS, xDigits: 3, yMin: 0.1, yTicks: HEIGHT_TICKS_BSC, xLabel: BSC_X_LABEL,
  canvasTop: 0, canvasHeight: 625, plotTop: 23, plotBottom: 585, tickGap: 10, xLabelGap: 28, blueTension: 0.3,
};
const EXT_ROW: RowSpec = {
  xMax: 0.5, xTicks: EXT_TICKS, xDigits: 2, yMin: 0, yTicks: HEIGHT_TICKS_EXT, xLabel: EXT_X_LABEL,
  canvasTop: 645, canvasHeight: 648, plotTop: 22, plotBottom: 608, tickGap: 12, xLabelGap: 30, blueTension: 0,
};

const BSC_PANELS: PanelData[] = [
  { blue: BSC_BLUE_100, red: BSC_RED_100, blueBand: BSC_BLUE_BAND_100, redBand: BSC_RED_BAND_100 },
  { blue: BSC_BLUE_200, red: BSC_RED_200, blueBand: BSC_BLUE_BAND_200, redBand: BSC_RED_BAND_200 },
  { blue: BSC_BLUE_300, red: BSC_RED_300, blueBand: BSC_BLUE_BAND_300, redBand: BSC_RED_BAND_300 },
  { blue: BSC_BLUE_400, red: BSC_RED_400, blueBand: BSC_BLUE_BAND_400, redBand: BSC_RED_BAND_400 },
  { blue: BSC_BLUE_500, red: BSC_RED_500, blueBand: BSC_BLUE_BAND_500, redBand: BSC_RED_BAND_500 },
];
const EXT_PANELS: PanelData[] = [
  { blue: EXT_BLUE_100, red: EXT_RED_100, blueBand: EXT_BLUE_BAND_100, redBand: EXT_RED_BAND_100 },
  { blue: EXT_BLUE_200, red: EXT_RED_200, blueBand: EXT_BLUE_BAND_200, redBand: EXT_RED_BAND_200 },
  { blue: EXT_BLUE_300, red: EXT_RED_300, blueBand: EXT_BLUE_BAND_300, redBand: EXT_RED_BAND_300 },
  { blue: EXT_BLUE_400, red: EXT_RED_400, blueBand: EXT_BLUE_BAND_400, redBand: EXT_RED_BAND_400 },
  { blue: EXT_BLUE_500, red: EXT_RED_500, blueBand: EXT_BLUE_BAND_500, redBand: EXT_RED_BAND_500 },
];

const toPoints = (p: Profile) => p.map(([h, v]) => ({ x: v, y: h }));

// closed outline: upper edge going down, lower edge coming back up
const bandOutline = (b: Band) => [
  ...b.map(([h, , hi]) => ({ x: hi, y: h })),
  ...b.slice().reverse().map(([h, lo]) => ({ x: lo, y: h })),
];

// text drawn with a horizontal squeeze, anchored at (x, y)
function narrowText(
  ctx: CanvasRenderingContext2D,
  text: string,
  x: number,
  y: number,
  align: CanvasTextAlign,
  font: string,
) {
  ctx.save();
  ctx.font = font;
  ctx.textAlign = align;
  ctx.textBaseline = 'middle';
  ctx.translate(x, y);
  ctx.scale(NARROW, 1);
  ctx.fillText(text, 0, 0);
  ctx.restore();
}

function drawRich(ctx: CanvasRenderingContext2D, parts: RichText, cx: number, cy: number) {
  const base = `12.5px ${FONT}`;
  const sup = `8.5px ${FONT}`;
  let w = 0;
  for (const [t, s] of parts) {
    ctx.font = s ? sup : base;
    w += ctx.measureText(t).width;
  }
  ctx.save();
  ctx.translate(cx, cy);
  ctx.scale(NARROW, 1);
  let x = -w / 2;
  ctx.textAlign = 'left';
  ctx.textBaseline = 'middle';
  for (const [t, s] of parts) {
    ctx.font = s ? sup : base;
    ctx.fillText(t, x, s ? -4.5 : 0);
    x += ctx.measureText(t).width;
  }
  ctx.restore();
}

function drawLegend(ctx: CanvasRenderingContext2D, left: number, top: number) {
  const x0 = left + 34;
  const y0 = top + 9;
  const w = 140;
  const h = 26;
  ctx.fillStyle = '#ffffff';
  ctx.fillRect(x0, y0, w, h);
  ctx.strokeStyle = '#5e5e5e';
  ctx.lineWidth = 1;
  ctx.strokeRect(x0 + 0.5, y0 + 0.5, w, h);
  const rows: Array<[string, string, number]> = [
    [BLUE, LEGEND_LABELS[0], y0 + 7.5],
    [RED, LEGEND_LABELS[1], y0 + 19.5],
  ];
  for (const [color, label, y] of rows) {
    ctx.strokeStyle = color;
    ctx.lineWidth = 2;
    ctx.beginPath();
    ctx.moveTo(x0 + 6, y);
    ctx.lineTo(x0 + 39, y);
    ctx.stroke();
    ctx.fillStyle = '#000000';
    narrowText(ctx, label, x0 + 42, y, 'left', `11px ${FONT}`);
  }
}

function Panel({ row, col, title, data }: { row: RowSpec; col: number; title: string; data: PanelData }) {
  const ref = useRef<HTMLCanvasElement>(null);

  useEffect(() => {
    const canvas = ref.current;
    if (!canvas) return;

    const frame = {
      id: 'frame',
      beforeDatasetsDraw(chart: any) {
        const { ctx, chartArea: a, scales } = chart;
        ctx.save();
        ctx.strokeStyle = AXIS_COLOR;
        ctx.lineWidth = 1;
        ctx.strokeRect(a.left + 0.5, a.top + 0.5, a.right - a.left - 1, a.bottom - a.top - 1);
        ctx.beginPath();
        for (const v of row.xTicks) {
          const px = Math.round(scales.x.getPixelForValue(v)) + 0.5;
          ctx.moveTo(px, a.bottom);
          ctx.lineTo(px, a.bottom - 4);
          ctx.moveTo(px, a.top);
          ctx.lineTo(px, a.top + 4);
        }
        for (const v of row.yTicks) {
          const py = Math.round(scales.y.getPixelForValue(v)) + 0.5;
          ctx.moveTo(a.left, py);
          ctx.lineTo(a.left + 4, py);
          ctx.moveTo(a.right, py);
          ctx.lineTo(a.right - 4, py);
        }
        ctx.stroke();
        ctx.restore();
      },
    };

    const annotate = {
      id: 'annotate',
      afterDraw(chart: any) {
        const { ctx, chartArea: a, scales } = chart;
        const cx = (a.left + a.right) / 2;
        ctx.save();
        // tick labels
        ctx.fillStyle = TICK_COLOR;
        const tickFont = `12.5px ${FONT}`;
        for (const v of row.xTicks) {
          narrowText(ctx, v.toFixed(row.xDigits), scales.x.getPixelForValue(v), a.bottom + row.tickGap, 'center', tickFont);
        }
        for (const v of row.yTicks) {
          narrowText(ctx, v.toFixed(1), a.left - 5, scales.y.getPixelForValue(v), 'right', tickFont);
        }
        // panel title
        ctx.fillStyle = TEXT_COLOR;
        narrowText(ctx, title, cx, a.top - 8, 'center', `bold 13px ${FONT}`);
        // axis titles
        ctx.fillStyle = TICK_COLOR;
        ctx.save();
        ctx.translate(17, (a.top + a.bottom) / 2);
        ctx.rotate(-Math.PI / 2);
        narrowText(ctx, Y_LABEL, 0, 0, 'center', `12.5px ${FONT}`);
        ctx.restore();
        drawRich(ctx, row.xLabel, cx, a.bottom + row.xLabelGap);
        if (col === 0) drawLegend(ctx, a.left, a.top);
        ctx.restore();
      },
    };

    const lineDefaults = { pointRadius: 0, borderWidth: 2, fill: false, spanGaps: false, clip: 3 };
    const bandDefaults = { pointRadius: 0, borderWidth: 0, borderColor: 'transparent', fill: 'shape', tension: 0 };

    // first dataset is painted last, so the Polly profile sits on top
    const chart = new Chart(canvas, {
      type: 'line',
      data: {
        datasets: [
          { ...lineDefaults, label: LEGEND_LABELS[0], data: toPoints(data.blue), borderColor: BLUE, tension: row.blueTension },
          { ...lineDefaults, label: LEGEND_LABELS[1], data: toPoints(data.red), borderColor: RED, tension: 0.3 },
          { ...bandDefaults, label: 'polly-std', data: bandOutline(data.blueBand), backgroundColor: BLUE_FILL },
          { ...bandDefaults, label: 'livas-std', data: bandOutline(data.redBand), backgroundColor: RED_FILL },
        ] as any,
      },
      options: {
        responsive: false,
        animation: false,
        devicePixelRatio: 1,
        indexAxis: 'y',
        events: [],
        layout: { padding: { left: 0, right: 11, top: row.plotTop, bottom: 0 } },
        plugins: {
          legend: { display: false },
          tooltip: { enabled: false },
          title: { display: false },
        },
        scales: {
          x: {
            type: 'linear',
            position: 'bottom',
            min: 0,
            max: row.xMax,
            afterBuildTicks: (s: any) => {
              s.ticks = row.xTicks.map((v) => ({ value: v }));
            },
            afterFit: (s: any) => {
              s.height = row.canvasHeight - row.plotBottom;
              s.paddingLeft = 0;
              s.paddingRight = 0;
            },
            ticks: { display: false },
            grid: { color: GRID_COLOR, lineWidth: 1, drawTicks: false },
            border: { display: false },
          },
          y: {
            type: 'linear',
            position: 'left',
            min: row.yMin,
            max: 8,
            afterBuildTicks: (s: any) => {
              s.ticks = row.yTicks.map((v) => ({ value: v }));
            },
            afterFit: (s: any) => {
              s.width = 49;
              s.paddingTop = 0;
              s.paddingBottom = 0;
            },
            ticks: { display: false },
            grid: { color: GRID_COLOR, lineWidth: 1, drawTicks: false },
            border: { display: false },
          },
        },
      } as any,
      plugins: [frame, annotate],
    });

    return () => chart.destroy();
  }, [row, col, title, data]);

  return (
    <canvas
      ref={ref}
      width={PANEL_W}
      height={row.canvasHeight}
      style={{
        position: 'absolute',
        left: col * PANEL_W,
        top: row.canvasTop,
        width: PANEL_W,
        height: row.canvasHeight,
      }}
    />
  );
}

export default function App() {
  return (
    <div
      style={{
        position: 'absolute',
        left: 0,
        top: 0,
        width: 1222,
        height: 1293,
        background: '#ffffff',
        overflow: 'hidden',
      }}
    >
      {BSC_PANELS.map((d, i) => (
        <Panel key={`bsc-${i}`} row={BSC_ROW} col={i} title={PANEL_TITLES[i]} data={d} />
      ))}
      {EXT_PANELS.map((d, i) => (
        <Panel key={`ext-${i}`} row={EXT_ROW} col={i} title={PANEL_TITLES[i]} data={d} />
      ))}
    </div>
  );
}
